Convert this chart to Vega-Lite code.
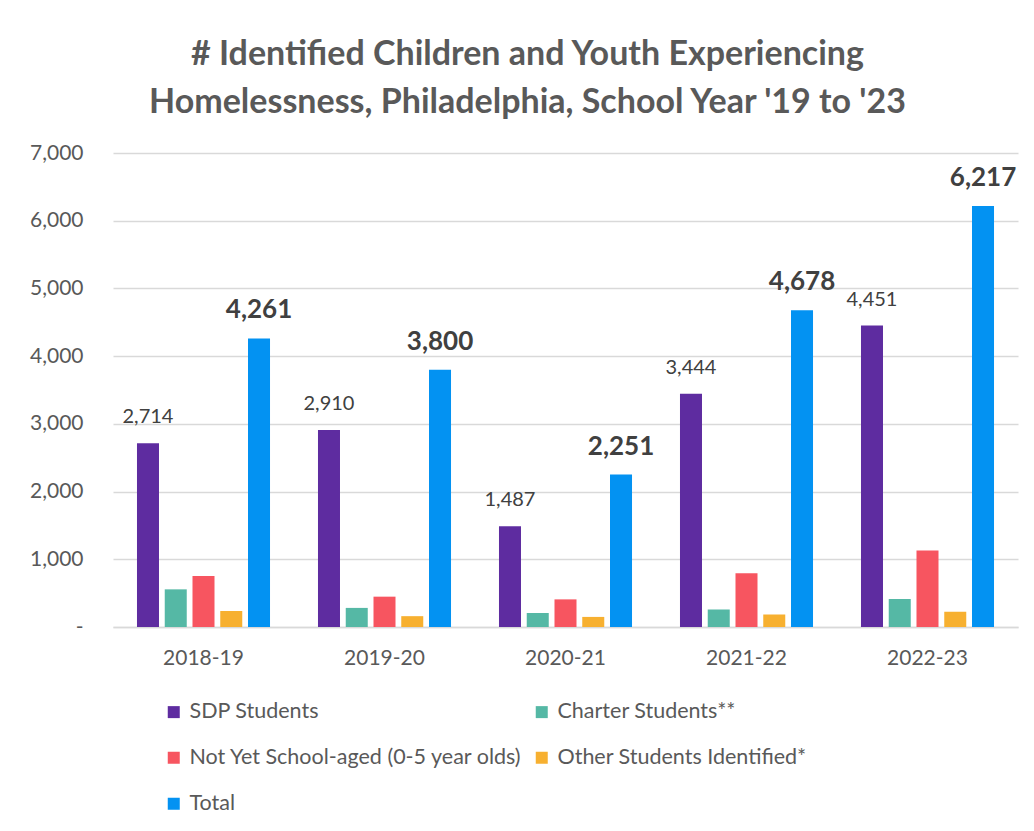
{
  "$schema": "https://vega.github.io/schema/vega-lite/v6.json",
  "width": 905,
  "height": 474,
  "autosize": {"type": "none"},
  "padding": {"left": 113, "top": 153, "right": 16, "bottom": 204},
  "background": "white",
  "config": {"font": "Lato", "view": {"stroke": null}},
  "title": {
    "text": ["# Identified Children and Youth Experiencing", "Homelessness, Philadelphia, School Year '19 to '23"],
    "fontSize": 34,
    "fontWeight": "bold",
    "color": "#595959",
    "lineHeight": 48,
    "anchor": "middle",
    "frame": "group",
    "dx": -38,
    "offset": 22
  },
  "data": {
    "values": [
      {"year": "2018-19", "series": "SDP Students", "value": 2714},
      {"year": "2018-19", "series": "Charter Students**", "value": 556},
      {"year": "2018-19", "series": "Not Yet School-aged (0-5 year olds)", "value": 755},
      {"year": "2018-19", "series": "Other Students Identified*", "value": 236},
      {"year": "2018-19", "series": "Total", "value": 4261},
      {"year": "2019-20", "series": "SDP Students", "value": 2910},
      {"year": "2019-20", "series": "Charter Students**", "value": 282},
      {"year": "2019-20", "series": "Not Yet School-aged (0-5 year olds)", "value": 448},
      {"year": "2019-20", "series": "Other Students Identified*", "value": 160},
      {"year": "2019-20", "series": "Total", "value": 3800},
      {"year": "2020-21", "series": "SDP Students", "value": 1487},
      {"year": "2020-21", "series": "Charter Students**", "value": 207},
      {"year": "2020-21", "series": "Not Yet School-aged (0-5 year olds)", "value": 408},
      {"year": "2020-21", "series": "Other Students Identified*", "value": 149},
      {"year": "2020-21", "series": "Total", "value": 2251},
      {"year": "2021-22", "series": "SDP Students", "value": 3444},
      {"year": "2021-22", "series": "Charter Students**", "value": 257},
      {"year": "2021-22", "series": "Not Yet School-aged (0-5 year olds)", "value": 793},
      {"year": "2021-22", "series": "Other Students Identified*", "value": 184},
      {"year": "2021-22", "series": "Total", "value": 4678},
      {"year": "2022-23", "series": "SDP Students", "value": 4451},
      {"year": "2022-23", "series": "Charter Students**", "value": 413},
      {"year": "2022-23", "series": "Not Yet School-aged (0-5 year olds)", "value": 1129},
      {"year": "2022-23", "series": "Other Students Identified*", "value": 224},
      {"year": "2022-23", "series": "Total", "value": 6217}
    ]
  },
  "encoding": {
    "x": {
      "field": "year",
      "type": "nominal",
      "sort": null,
      "scale": {"paddingInner": 0.265, "paddingOuter": 0.1325},
      "axis": {
        "title": null,
        "labelAngle": 0,
        "labelFontSize": 21,
        "labelColor": "#595959",
        "labelPadding": 20,
        "ticks": false,
        "domainColor": "#d9d9d9",
        "domainWidth": 1.5
      }
    },
    "xOffset": {
      "field": "series",
      "type": "nominal",
      "sort": null,
      "scale": {
        "domain": ["SDP Students", "Charter Students**", "Not Yet School-aged (0-5 year olds)", "Other Students Identified*", "Total"],
        "paddingInner": 0.207,
        "paddingOuter": 0
      }
    },
    "y": {
      "field": "value",
      "type": "quantitative",
      "scale": {"domain": [0, 7000], "nice": false},
      "axis": {
        "title": null,
        "values": [0, 1000, 2000, 3000, 4000, 5000, 6000, 7000],
        "labelExpr": "datum.value == 0 ? '-\u00a0\u00a0\u00a0' : format(datum.value, ',')",
        "labelFontSize": 21,
        "labelColor": "#595959",
        "labelPadding": 30,
        "ticks": false,
        "domain": false,
        "gridColor": "#d9d9d9",
        "gridWidth": 1.5
      }
    }
  },
  "layer": [
    {
      "mark": {"type": "bar"},
      "encoding": {
        "color": {
          "field": "series",
          "type": "nominal",
          "scale": {
            "domain": ["SDP Students", "Charter Students**", "Not Yet School-aged (0-5 year olds)", "Other Students Identified*", "Total"],
            "range": ["#5E2CA0", "#55B8A5", "#F75560", "#F7B030", "#0392F2"]
          },
          "legend": {
            "title": null,
            "orient": "none",
            "direction": "horizontal",
            "legendX": 50,
            "legendY": 548,
            "columns": 2,
            "symbolType": "square",
            "symbolSize": 144,
            "symbolStrokeWidth": 0,
            "labelFontSize": 21.5,
            "labelColor": "#595959",
            "labelOffset": 5,
            "rowPadding": 23,
            "columnPadding": 8,
            "labelLimit": 500
          }
        }
      }
    },
    {
      "transform": [{"filter": "datum.series == 'SDP Students'"}],
      "mark": {"type": "text", "baseline": "alphabetic", "dy": -20, "fontSize": 20, "color": "#404040"},
      "encoding": {"text": {"field": "value", "type": "quantitative", "format": ","}}
    },
    {
      "transform": [{"filter": "datum.series == 'Total'"}],
      "mark": {"type": "text", "baseline": "alphabetic", "dy": -20, "fontSize": 26, "fontWeight": "bold", "color": "#404040"},
      "encoding": {"text": {"field": "value", "type": "quantitative", "format": ","}}
    }
  ]
}
